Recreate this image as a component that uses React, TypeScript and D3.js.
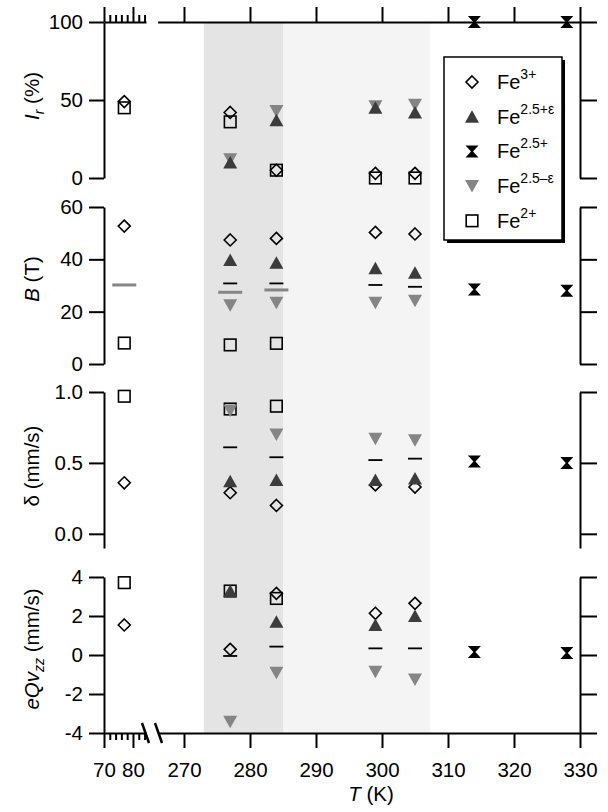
import React, { useRef, useEffect } from "react";
import * as d3 from "d3";

// temperatures (K) of each measurement
const temps = [77, 277, 284, 299, 305, 314, 328];

// relative intensity I_r (%)
const irFe3 = [49, 42, 5, 3, 3, null, null];
const irPlus = [null, 10, 37, 45, 42, null, null];
const irMid = [null, null, null, null, null, 100, 100];
const irMinus = [null, 12, 43, 46, 47, null, null];
const irFe2 = [45, 36, 5, 0, 0, null, null];

// hyperfine field B (T)
const bFe3 = [52.7, 47.4, 48, 50.3, 49.7, null, null];
const bPlus = [null, 39.7, 38.7, 36.6, 34.9, null, null];
const bMid = [null, null, null, null, null, 28.5, 28];
const bMinus = [null, 22.5, 23.4, 23.4, 24.2, null, null];
const bFe2 = [8, 7.3, 7.9, null, null, null, null];
const bAvg = [null, 30.8, 30.8, 30.2, 29.5, null, null];
const bAvgGray = [30.2, 27.4, 28.3, null, null, null, null];

// isomer shift delta (mm/s)
const dFe3 = [0.36, 0.29, 0.2, 0.345, 0.33, null, null];
const dPlus = [null, 0.37, 0.38, 0.38, 0.39, null, null];
const dMid = [null, null, null, null, null, 0.51, 0.5];
const dMinus = [null, 0.87, 0.7, 0.67, 0.66, null, null];
const dFe2 = [0.97, 0.88, 0.9, null, null, null, null];
const dAvg = [null, 0.61, 0.54, 0.52, 0.53, null, null];

// quadrupole eQVzz (mm/s)
const qFe3 = [1.54, 0.29, 3.16, 2.14, 2.65, null, null];
const qPlus = [null, 3.28, 1.71, 1.54, 2.0, null, null];
const qMid = [null, null, null, null, null, 0.15, 0.1];
const qMinus = [null, -3.42, -0.91, -0.86, -1.25, null, null];
const qFe2 = [3.71, 3.28, 2.9, null, null, null, null];
const qAvg = [null, -0.05, 0.43, 0.34, 0.34, null, null];

const lowTicks = [70, 80];
const lowMinor = [72, 74, 76, 78, 82, 84];
const highTicks = [270, 280, 290, 300, 310, 320, 330];
const shadeDark = [273, 285];
const shadeLight = [285, 307.3];

const legendItems = [
  { key: "fe3", sup: "3+" },
  { key: "plus", sup: "2.5+\u03b5" },
  { key: "mid", sup: "2.5+" },
  { key: "minus", sup: "2.5\u2013\u03b5" },
  { key: "fe2", sup: "2+" },
];

const FONT = "'Liberation Sans', Arial, Helvetica, sans-serif";
const DARK = "#3c3c3c";
const GRAY = "#858585";

function drawMarker(g: any, key: string, cx: number, cy: number) {
  const m = g.append("g").attr("transform", `translate(${cx},${cy})`);
  if (key === "fe3") {
    m.append("path").attr("d", "M0,-6 L6,0 L0,6 L-6,0 Z")
      .attr("fill", "none").attr("stroke", "#000").attr("stroke-width", 1.6);
  } else if (key === "fe2") {
    m.append("rect").attr("x", -5.8).attr("y", -5.8).attr("width", 11.6).attr("height", 11.6)
      .attr("fill", "none").attr("stroke", "#000").attr("stroke-width", 1.6);
  } else if (key === "plus") {
    m.append("path").attr("d", "M0,-6.5 L7,6 L-7,6 Z").attr("fill", DARK);
  } else if (key === "minus") {
    m.append("path").attr("d", "M0,6.5 L7,-6 L-7,-6 Z").attr("fill", GRAY);
  } else if (key === "mid") {
    m.append("path").attr("d", "M-6.5,-6 L6.5,-6 L1,0 L6.5,6 L-6.5,6 L-1,0 Z").attr("fill", "#000");
  } else if (key === "avg") {
    m.append("line").attr("x1", -7).attr("x2", 7).attr("stroke", "#000").attr("stroke-width", 1.8);
  } else if (key === "avgGray") {
    m.append("line").attr("x1", -12).attr("x2", 12).attr("stroke", GRAY).attr("stroke-width", 3);
  }
}

export default function App() {
  const svgRef = useRef(null);

  useEffect(() => {
    const width = 608;
    const height = 812;
    const svg = d3.select(svgRef.current).attr("width", width).attr("height", height);
    svg.selectAll("*").remove();

    const xLow = d3.scaleLinear().domain([70, 84.5]).range([104, 146]);
    const xHigh = d3.scaleLinear().domain([266, 330]).range([157.6, 580]);
    const xPos = (t: number) => (t < 200 ? xLow(t) : xHigh(t));

    const top = 22;
    const bottom = 733;

    const panels = [
      {
        y: d3.scaleLinear().domain([0, 100]).range([178, 22]),
        ticks: [0, 50, 100], fmt: (d: number) => `${d}`,
        series: { fe3: irFe3, fe2: irFe2, minus: irMinus, plus: irPlus, mid: irMid } as any,
      },
      {
        y: d3.scaleLinear().domain([0, 60]).range([364, 207]),
        ticks: [0, 20, 40, 60], fmt: (d: number) => `${d}`,
        series: { fe3: bFe3, fe2: bFe2, minus: bMinus, plus: bPlus, mid: bMid, avg: bAvg, avgGray: bAvgGray } as any,
      },
      {
        y: d3.scaleLinear().domain([-0.1, 1.0]).range([548, 392]),
        ticks: [0, 0.5, 1.0], fmt: d3.format(".1f"),
        series: { fe3: dFe3, fe2: dFe2, minus: dMinus, plus: dPlus, mid: dMid, avg: dAvg } as any,
      },
      {
        y: d3.scaleLinear().domain([-4, 4]).range([733, 577]),
        ticks: [-4, -2, 0, 2, 4], fmt: (d: number) => `${d}`,
        series: { fe3: qFe3, fe2: qFe2, minus: qMinus, plus: qPlus, mid: qMid, avg: qAvg } as any,
      },
    ];

    // shaded temperature ranges
    svg.append("rect")
      .attr("x", xHigh(shadeDark[0])).attr("y", top)
      .attr("width", xHigh(shadeDark[1]) - xHigh(shadeDark[0])).attr("height", bottom - top)
      .attr("fill", "#e4e4e4");
    svg.append("rect")
      .attr("x", xHigh(shadeLight[0])).attr("y", top)
      .attr("width", xHigh(shadeLight[1]) - xHigh(shadeLight[0])).attr("height", bottom - top)
      .attr("fill", "#f4f4f4");

    const styleAxis = (g: any) => {
      g.selectAll("path.domain").attr("stroke", "#000").attr("stroke-width", 2);
      g.selectAll(".tick line").attr("stroke", "#000").attr("stroke-width", 2);
      g.selectAll("text").attr("fill", "#000").style("font-family", FONT).style("font-size", "20.5px");
    };

    // x axes: top (no labels) and bottom
    const topLow = svg.append("g").attr("transform", `translate(0,${top})`)
      .call(d3.axisTop(xLow).tickValues(lowTicks).tickSize(15).tickSizeOuter(0).tickFormat(() => ""));
    styleAxis(topLow);
    const topLowMinor = svg.append("g").attr("transform", `translate(0,${top})`)
      .call(d3.axisTop(xLow).tickValues(lowMinor).tickSize(7).tickSizeOuter(0).tickFormat(() => ""));
    styleAxis(topLowMinor);
    topLowMinor.select("path.domain").remove();
    const topHigh = svg.append("g").attr("transform", `translate(0,${top})`)
      .call(d3.axisTop(xHigh).tickValues(highTicks).tickSize(15).tickSizeOuter(0).tickFormat(() => ""));
    styleAxis(topHigh);

    const botLow = svg.append("g").attr("transform", `translate(0,${bottom})`)
      .call(d3.axisBottom(xLow).tickValues(lowTicks).tickSize(15).tickSizeOuter(0).tickPadding(14));
    styleAxis(botLow);
    const botLowMinor = svg.append("g").attr("transform", `translate(0,${bottom})`)
      .call(d3.axisBottom(xLow).tickValues(lowMinor).tickSize(7).tickSizeOuter(0).tickFormat(() => ""));
    styleAxis(botLowMinor);
    botLowMinor.select("path.domain").remove();
    const botHigh = svg.append("g").attr("transform", `translate(0,${bottom})`)
      .call(d3.axisBottom(xHigh).tickValues(highTicks).tickSize(15).tickSizeOuter(0).tickPadding(14));
    styleAxis(botHigh);

    // axis break marks
    [142, 155].forEach((bx) => {
      svg.append("line")
        .attr("x1", bx).attr("y1", bottom - 10).attr("x2", bx + 7).attr("y2", bottom + 10)
        .attr("stroke", "#000").attr("stroke-width", 2.5);
    });

    // y axes per panel
    panels.forEach((p) => {
      const left = svg.append("g").attr("transform", `translate(${xLow(70)},0)`)
        .call(d3.axisLeft(p.y).tickValues(p.ticks).tickSize(15).tickSizeOuter(0).tickPadding(6).tickFormat(p.fmt as any));
      styleAxis(left);
      const right = svg.append("g").attr("transform", `translate(${xHigh(330)},0)`)
        .call(d3.axisRight(p.y).tickValues(p.ticks).tickSize(17).tickSizeOuter(0).tickFormat(() => ""));
      styleAxis(right);
    });

    // data markers
    const marks = svg.append("g");
    const order = ["avgGray", "fe3", "fe2", "minus", "plus", "mid", "avg"];
    panels.forEach((p) => {
      order.forEach((key) => {
        const vals = p.series[key];
        if (!vals) return;
        vals.forEach((v: number | null, i: number) => {
          if (v === null) return;
          drawMarker(marks, key, xPos(temps[i]), p.y(v));
        });
      });
    });

    // legend
    const lg = svg.append("g").attr("transform", "translate(444,57)");
    lg.append("rect").attr("x", 3).attr("y", 3).attr("width", 118).attr("height", 183).attr("fill", "#000");
    lg.append("rect").attr("x", 0).attr("y", 0).attr("width", 118).attr("height", 183)
      .attr("fill", "#fff").attr("stroke", "#000").attr("stroke-width", 1.5);
    legendItems.forEach((item, i) => {
      const cy = 25 + i * 34.7;
      drawMarker(lg, item.key, 28, cy);
      const t = lg.append("text").attr("x", 53).attr("y", cy + 7)
        .style("font-family", FONT).style("font-size", "20px").attr("fill", "#000");
      t.append("tspan").text("Fe");
      t.append("tspan").attr("dy", -10).style("font-size", "14px").text(item.sup);
    });

    // axis titles
    const title = (cy: number) =>
      svg.append("text").attr("transform", `translate(39,${cy}) rotate(-90)`)
        .attr("text-anchor", "middle").style("font-family", FONT).style("font-size", "20.5px").attr("fill", "#000");

    const t1 = title(96);
    t1.append("tspan").style("font-style", "italic").text("I");
    t1.append("tspan").style("font-style", "italic").style("font-size", "14px").attr("dy", 5).text("r");
    t1.append("tspan").attr("dy", -5).text(" (%)");

    const t2 = title(279);
    t2.append("tspan").style("font-style", "italic").text("B");
    t2.append("tspan").text(" (T)");

    const t3 = title(466);
    t3.append("tspan").text("\u03b4  (mm/s)");

    const t4 = title(649);
    t4.append("tspan").style("font-style", "italic").text("eQv");
    t4.append("tspan").style("font-style", "italic").style("font-size", "14px").attr("dy", 5).text("zz");
    t4.append("tspan").attr("dy", -5).text(" (mm/s)");

    const tx = svg.append("text").attr("x", 371).attr("y", 801).attr("text-anchor", "middle")
      .style("font-family", FONT).style("font-size", "20.5px").attr("fill", "#000");
    tx.append("tspan").style("font-style", "italic").text("T");
    tx.append("tspan").text("  (K)");
  }, []);

  return (
    <svg ref={svgRef} style={{ position: "absolute", left: 0, top: 0, display: "block", background: "#fff" }}></svg>
  );
}
